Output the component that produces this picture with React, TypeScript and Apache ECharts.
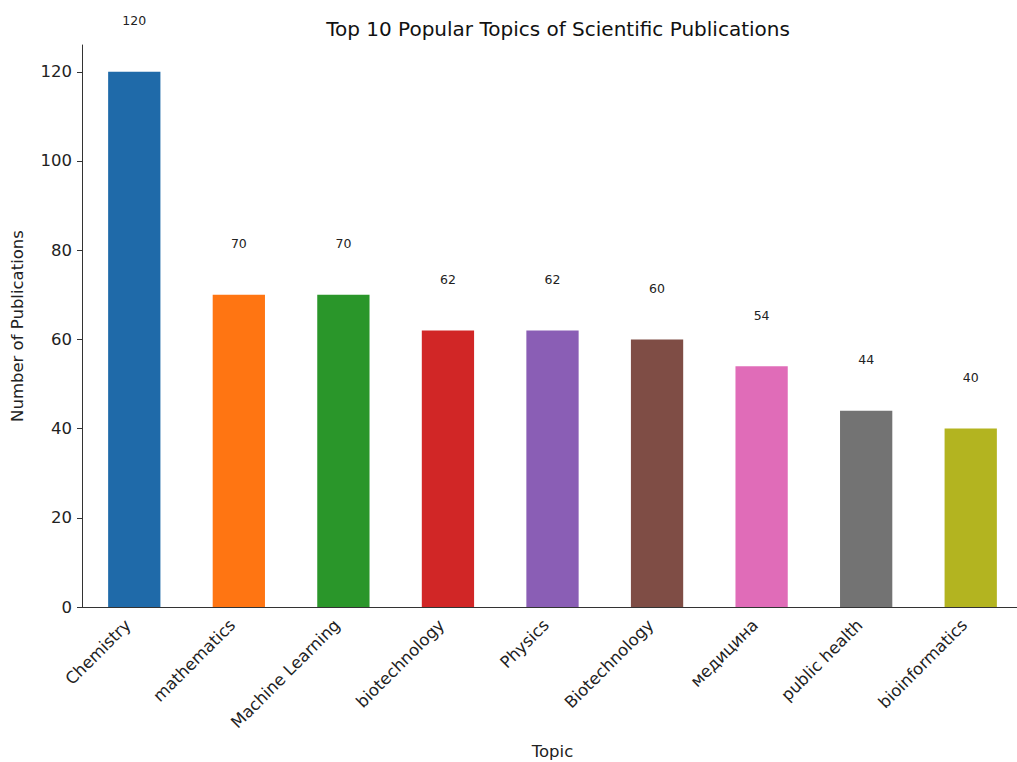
import React, { useEffect, useRef } from "react";
import * as echarts from "echarts";

const categories = ["Chemistry", "mathematics", "Machine Learning", "biotechnology", "Physics", "Biotechnology", "медицина", "public health", "bioinformatics"];
const values = [120, 70, 70, 62, 62, 60, 54, 44, 40];
const colors = ["#1f6aa9", "#ff7512", "#2a962a", "#d12626", "#8a5eb5", "#7f4d45", "#e06cb8", "#737373", "#b3b420"];
const yTicks = [0, 20, 40, 60, 80, 100, 120];

export default function App() {
  const ref = useRef<HTMLDivElement>(null);
  useEffect(() => {
    document.body.style.margin = "0";
    document.body.style.overflow = "hidden";
    const chart = echarts.init(ref.current!, null, { renderer: "svg" });
    const font = "DejaVu Sans";
    const plotTop = 45;
    const plotBottom = 607;
    const yMax = 126;
    const pxPerUnit = (plotBottom - plotTop) / yMax;
    chart.setOption({
      animation: false,
      textStyle: { fontFamily: font },
      title: {
        text: "Top 10 Popular Topics of Scientific Publications",
        left: 553,
        textAlign: "center",
        top: 14,
        textStyle: { fontFamily: font, fontSize: 20, fontWeight: "normal", color: "#111" },
      },
      grid: {
        left: 82,
        top: plotTop,
        width: 941,
        height: plotBottom - plotTop,
        containLabel: false,
        outerBoundsMode: "none",
      },
      xAxis: {
        type: "category",
        data: categories,
        name: "Topic",
        nameLocation: "middle",
        nameGap: 136,
        nameTextStyle: { fontFamily: font, fontSize: 16.5, color: "#222" },
        axisLine: { lineStyle: { color: "#333", width: 1 } },
        axisTick: { alignWithLabel: true, length: 5, lineStyle: { color: "#333" } },
        axisLabel: {
          rotate: 45,
          fontFamily: font,
          fontSize: 16.5,
          color: "#222",
          margin: 9,
          interval: 0,
          padding: [0, 9, 0, 0],
        },
      },
      yAxis: {
        type: "value",
        min: 0,
        max: yMax,
        interval: 20,
        name: "Number of Publications",
        nameLocation: "middle",
        nameGap: 56,
        nameTextStyle: { fontFamily: font, fontSize: 16.5, color: "#222" },
        axisLine: { show: true, lineStyle: { color: "#333", width: 1 } },
        axisTick: { show: true, length: 5, lineStyle: { color: "#333" } },
        axisLabel: {
          fontFamily: font,
          fontSize: 16.5,
          color: "#222",
          margin: 10,
          showMaxLabel: false,
          formatter: (v: number) => (yTicks.includes(v) ? String(v) : ""),
        },
        splitLine: { show: false },
      },
      series: [
        {
          type: "bar",
          barWidth: "50%",
          data: values.map((v, i) => ({ value: v, itemStyle: { color: colors[i] } })),
          label: {
            show: true,
            position: "top",
            distance: 10 * pxPerUnit,
            fontFamily: font,
            fontSize: 12.5,
            color: "#222",
          },
        },
      ],
    });
    return () => chart.dispose();
  }, []);
  return <div ref={ref} style={{ width: 1030, height: 762 }} />;
}
